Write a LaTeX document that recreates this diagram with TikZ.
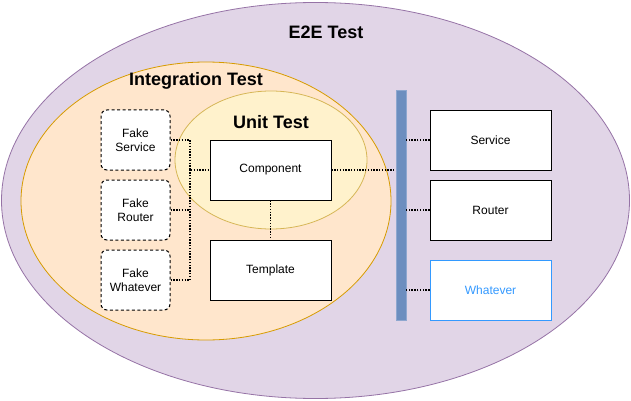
\documentclass[tikz,border=0pt]{standalone}
\usepackage{fontspec}
\setmainfont{Liberation Sans}
\usetikzlibrary{arrows.meta}
\definecolor{e2efill}{HTML}{E1D5E7}
\definecolor{e2eline}{HTML}{9673A6}
\definecolor{intfill}{HTML}{FFE6CC}
\definecolor{intline}{HTML}{D79B00}
\definecolor{unitfill}{HTML}{FFF2CC}
\definecolor{unitline}{HTML}{D6B656}
\definecolor{busfill}{HTML}{6C8EBF}
\definecolor{busline}{HTML}{8EA7CF}
\definecolor{whatblue}{HTML}{3399FF}
\tikzset{
    part/.style={draw=black,fill=white,line width=0.9pt,minimum width=121pt,minimum height=60pt,font=\fontsize{12}{14}\selectfont,inner sep=0pt},
    fake/.style={draw=black,fill=white,dash pattern=on 3pt off 2.5pt,rounded corners=6pt,line width=1pt,minimum width=69pt,minimum height=60pt,align=center,font=\fontsize{12}{14}\selectfont,inner sep=0pt},
    wire/.style={dash pattern=on 1.4pt off 1.4pt,line width=1.4pt},
    title/.style={font=\bfseries\fontsize{18}{20}\selectfont}
}
\begin{document}
\begin{tikzpicture}[x=1pt,y=-1pt]
            \useasboundingbox (0,0) rectangle (631,401);
            % test scopes
            \draw[e2eline,fill=e2efill,line width=0.8pt] (315.5,200.5) ellipse[x radius=314, y radius=198];
            \draw[intline,fill=intfill,line width=0.8pt] (206,201) ellipse[x radius=185, y radius=139];
            \draw[unitline,fill=unitfill,line width=0.8pt] (271,160) ellipse[x radius=96, y radius=69];
            \node[title] (e2e) at (326,32) {E2E Test};
            \node[title] (integ) at (196,81) {Integration Test};
            \node[title] (unit) at (271,122) {Unit Test};
            % fakes
            \node[fake] (fsvc) at (135.5,140) {Fake\\Service};
            \node[fake] (frtr) at (135.5,210) {Fake\\Router};
            \node[fake] (fwhat) at (135.5,280) {Fake\\Whatever};
            % real parts
            \node[part] (comp) at (270.5,170) {Component};
            \node[part] (tmpl) at (270.5,270) {Template};
            \node[draw=busline,fill=busfill,minimum width=10pt,minimum height=230pt,inner sep=0pt] (bus) at (401,205) {};
            \node[part] (svc) at (490.5,140) {Service};
            \node[part] (rtr) at (490.5,210) {Router};
            \node[part,draw=whatblue,text=whatblue] (what) at (490.5,290) {Whatever};
            % wiring
            \coordinate (junc) at (190,170);
            \draw[wire] (fsvc.east) -| (junc) -- (comp.west);
            \draw[wire] (frtr.east) -| (junc);
            \draw[wire] (fwhat.east) -| (junc);
            \draw[wire] (comp.south) -- (tmpl.north);
            \draw[wire] (comp.east) -- (comp.east -| bus.west);
            \draw[wire] (svc.west) -- (svc.west -| bus.east);
            \draw[wire] (rtr.west) -- (rtr.west -| bus.east);
            \draw[wire] (what.west) -- (what.west -| bus.east);
        \end{tikzpicture}
\end{document}
